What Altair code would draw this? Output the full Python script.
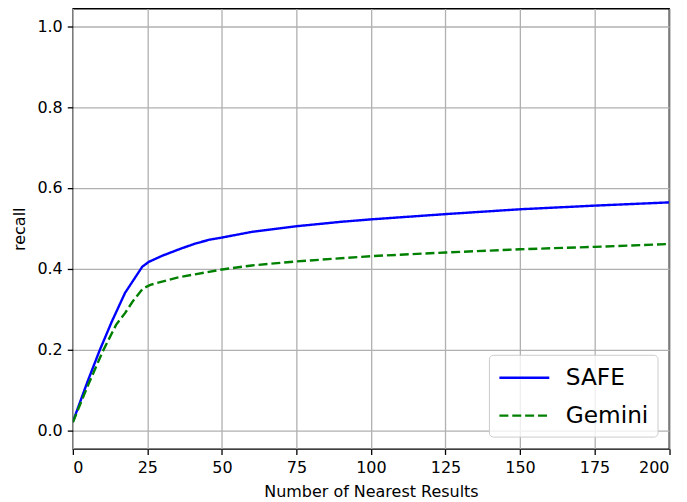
import altair as alt
import pandas as pd

series_names = ["SAFE", "Gemini"]
series_colors = ["#0000ff", "#008000"]

safe_x = [0, 5, 9, 13, 17.5, 23.3, 25.5, 30, 36, 41, 46, 50, 60, 75, 90, 100, 125, 150, 175, 200]
safe_y = [0.021, 0.122, 0.198, 0.268, 0.34, 0.405, 0.417, 0.432, 0.449, 0.462, 0.472, 0.477,
          0.491, 0.505, 0.516, 0.522, 0.535, 0.547, 0.556, 0.564]

gemini_x = [0, 5, 10, 14.5, 17.5, 20, 23.5, 26, 35, 50, 60, 75, 100, 125, 150, 175, 200]
gemini_y = [0.02, 0.11, 0.195, 0.261, 0.29, 0.318, 0.351, 0.36, 0.378, 0.398, 0.408, 0.418,
            0.431, 0.44, 0.448, 0.454, 0.461]

x_ticks = [0, 25, 50, 75, 100, 125, 150, 175, 200]
y_ticks = [0.0, 0.2, 0.4, 0.6, 0.8, 1.0]

rows = []
for i, (x, y) in enumerate(zip(safe_x, safe_y)):
    rows.append({"method": "SAFE", "n": x, "recall": y, "o": i})
for i, (x, y) in enumerate(zip(gemini_x, gemini_y)):
    rows.append({"method": "Gemini", "n": x, "recall": y, "o": i})
df = pd.DataFrame(rows)

FONT = "DejaVu Sans"

chart = alt.Chart(df).mark_line(strokeWidth=2.4, clip=True).encode(
    x=alt.X("n:Q", title="Number of Nearest Results",
            scale=alt.Scale(domain=[0, 200], nice=False, zero=False),
            axis=alt.Axis(values=x_ticks, format="d")),
    y=alt.Y("recall:Q", title="recall",
            scale=alt.Scale(domain=[-0.0459, 1.0437], nice=False, zero=False),
            axis=alt.Axis(values=y_ticks, format=".1f")),
    color=alt.Color("method:N", scale=alt.Scale(domain=series_names, range=series_colors),
                    sort=series_names,
                    legend=alt.Legend(title=None, orient="bottom-right", offset=12,
                                      symbolType="M-1,0L3,0", symbolSize=625,
                                      symbolStrokeWidth=2.4,
                                      symbolFillColor="transparent",
                                      labelFontSize=23.3, labelFont=FONT, labelColor="black",
                                      labelOffset=40, labelLimit=300,
                                      rowPadding=12,
                                      padding=9, fillColor="rgba(255,255,255,0.8)",
                                      strokeColor="#cccccc", cornerRadius=4)),
    strokeDash=alt.StrokeDash("method:N",
                              scale=alt.Scale(domain=series_names, range=[[1, 0], [9, 3.9]]),
                              sort=series_names, legend=None),
    order="o:Q",
).properties(
    width=597.5, height=441.3,
    autosize=alt.AutoSizeParams(type="none"),
    padding={"left": 65, "top": 0, "right": 10, "bottom": 55},
).configure_view(
    stroke="black", strokeWidth=1.3
).configure_axis(
    domain=False,
    grid=True, gridColor="#b0b0b0", gridWidth=1.3,
    tickColor="black", tickSize=5.6, tickWidth=1.3,
    labelFont=FONT, labelFontSize=16, labelColor="black", labelPadding=5,
    titleFont=FONT, titleFontSize=16, titleColor="black", titleFontWeight="normal",
).configure_axisX(
    titlePadding=8
).configure_axisY(
    titlePadding=9
)

chart.save("out.html", embed_options={"renderer": "svg", "actions": False})
